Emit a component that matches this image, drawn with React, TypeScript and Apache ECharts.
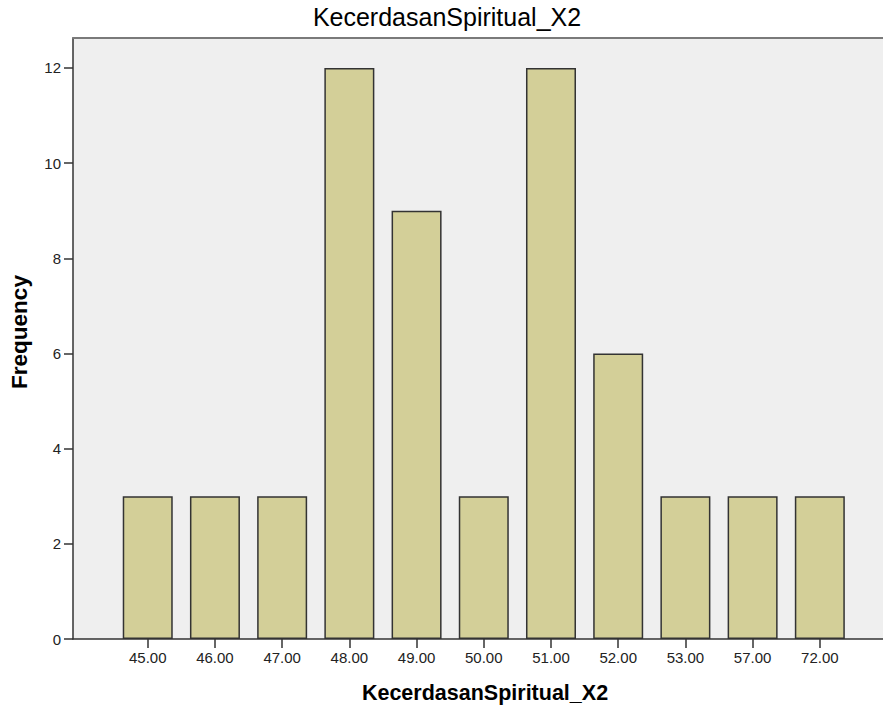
import React, { useEffect, useRef } from "react";
import * as echarts from "echarts";

const chartTitle = "KecerdasanSpiritual_X2";
const xTitle = "KecerdasanSpiritual_X2";
const yTitle = "Frequency";
const categories = ["45.00", "46.00", "47.00", "48.00", "49.00", "50.00", "51.00", "52.00", "53.00", "57.00", "72.00"];
const frequencies = [3, 3, 3, 12, 9, 3, 12, 6, 3, 3, 3];
const yTicks = [0, 2, 4, 6, 8, 10, 12];

const FONT = "Liberation Sans, Arial, sans-serif";

export default function App() {
  const ref = useRef<HTMLDivElement>(null);
  useEffect(() => {
    if (!ref.current) return;
    const chart = echarts.init(ref.current, null, { renderer: "svg" });
    const idx = categories.map((_, i) => i);
    chart.setOption({
      animation: false,
      backgroundColor: "#ffffff",
      textStyle: { fontFamily: FONT },
      graphic: [
        {
          type: "text",
          x: 447,
          y: 4,
          style: {
            text: chartTitle,
            textAlign: "center",
            textVerticalAlign: "top",
            font: `normal 25px ${FONT}`,
            fill: "#000",
          },
        },
        {
          type: "text",
          x: 485,
          y: 682,
          style: {
            text: xTitle,
            textAlign: "center",
            textVerticalAlign: "top",
            font: `bold 21.5px ${FONT}`,
            fill: "#000",
          },
        },
        {
          type: "text",
          x: 8,
          y: 332,
          rotation: Math.PI / 2,
          style: {
            text: yTitle,
            textAlign: "center",
            textVerticalAlign: "top",
            font: `bold 22.5px ${FONT}`,
            fill: "#000",
          },
        },
      ],
      grid: {
        left: 73,
        right: 0,
        top: 38,
        bottom: 66,
        show: true,
        backgroundColor: "#efefef",
        borderWidth: 0,
      },
      xAxis: [
        {
          type: "value",
          min: -1.112,
          max: 10.94,
          splitLine: { show: false },
          axisLine: { show: true, onZero: false, lineStyle: { color: "#333", width: 1.5 } },
          axisTick: { show: true, customValues: idx, length: 9, lineStyle: { color: "#333", width: 1.5 } },
          axisLabel: {
            customValues: idx,
            formatter: (v: number) => categories[Math.round(v)] ?? "",
            fontSize: 15,
            color: "#222",
            margin: 11,
          },
        },
        {
          type: "value",
          position: "top",
          min: -1.112,
          max: 10.94,
          splitLine: { show: false },
          axisLine: { show: true, onZero: false, lineStyle: { color: "#7a7a7a", width: 2 } },
          axisTick: { show: false },
          axisLabel: { show: false },
        },
      ],
      yAxis: {
        type: "value",
        min: 0,
        max: 12.63,
        splitLine: { show: false },
        axisLine: { show: true, onZero: false, lineStyle: { color: "#333", width: 1.5 } },
        axisTick: { show: true, customValues: yTicks, length: 9, lineStyle: { color: "#333", width: 1.5 } },
        axisLabel: { customValues: yTicks, fontSize: 15, color: "#222", margin: 12 },
      },
      series: [
        {
          type: "bar",
          barWidth: 50,
          xAxisIndex: 0,
          data: frequencies.map((v, i) => [i, v]),
          itemStyle: { color: "#d3cf98", borderColor: "#333", borderWidth: 1.5 },
        },
      ],
    });
    return () => chart.dispose();
  }, []);
  return <div ref={ref} style={{ position: "fixed", left: 0, top: 0, width: 883, height: 705 }} />;
}
